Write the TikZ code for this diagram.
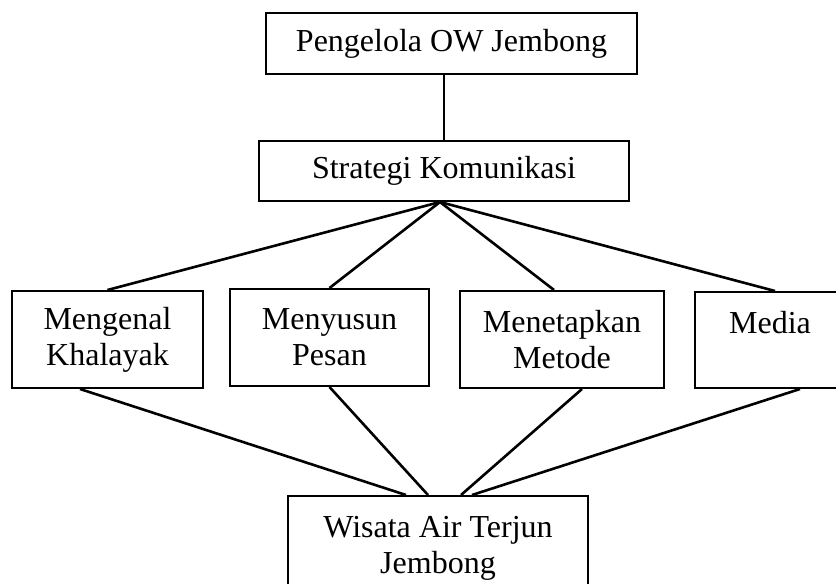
\documentclass[tikz,border=0pt]{standalone}
\usepackage{fontspec}
\setmainfont{Liberation Serif}
\usetikzlibrary{calc}
\tikzset{
  box/.style={draw, line width=2pt, rectangle, align=center, inner sep=0pt,
    font=\fontsize{32}{36}\selectfont},
  conn/.style={line width=2.6pt}
}
\begin{document}
\begin{tikzpicture}[x=1pt,y=-1pt]
\useasboundingbox (0,0) rectangle (836,584);
\node[box, minimum width=371pt, minimum height=61pt] (top) at (451.5,43.5) {Pengelola OW Jembong};
\node[box, minimum width=370pt, minimum height=60pt] (strat) at (444,171) {Strategi Komunikasi};
\node[box, minimum width=191pt, minimum height=97pt] (kenal) at (107.5,339.5) {Mengenal\\Khalayak};
\node[box, minimum width=199pt, minimum height=97pt] (susun) at (329.5,337.5) {Menyusun\\Pesan};
\node[box, minimum width=204pt, minimum height=97pt] (tetap) at (562,339.5) {Menetapkan\\Metode};
\node[box, minimum width=150pt, minimum height=96pt] (media) at (770,340) {Media\\\mbox{}};
\node[box, minimum width=300pt, minimum height=104pt] (wisata) at (438,548) {Wisata Air Terjun\\Jembong};
\coordinate (hub) at ($(strat.south)+(-4,0)$);
\draw[conn] (top.south -| strat.north) -- (strat.north);
\draw[conn] (hub) -- (kenal.north);
\draw[conn] (hub) -- (susun.north);
\draw[conn] (hub) -- ($(tetap.north)+(-8,0)$);
\draw[conn] (hub) -- ($(media.north)+(5,0)$);
\draw[conn] ($(kenal.south)+(-27.5,0)$) -- ($(wisata.north)+(-32,0)$);
\draw[conn] (susun.south) -- ($(wisata.north)+(-10,0)$);
\draw[conn] ($(tetap.south)+(20,0)$) -- ($(wisata.north)+(23,0)$);
\draw[conn] ($(media.south)+(30,0)$) -- ($(wisata.north)+(34,0)$);
\end{tikzpicture}
\end{document}
